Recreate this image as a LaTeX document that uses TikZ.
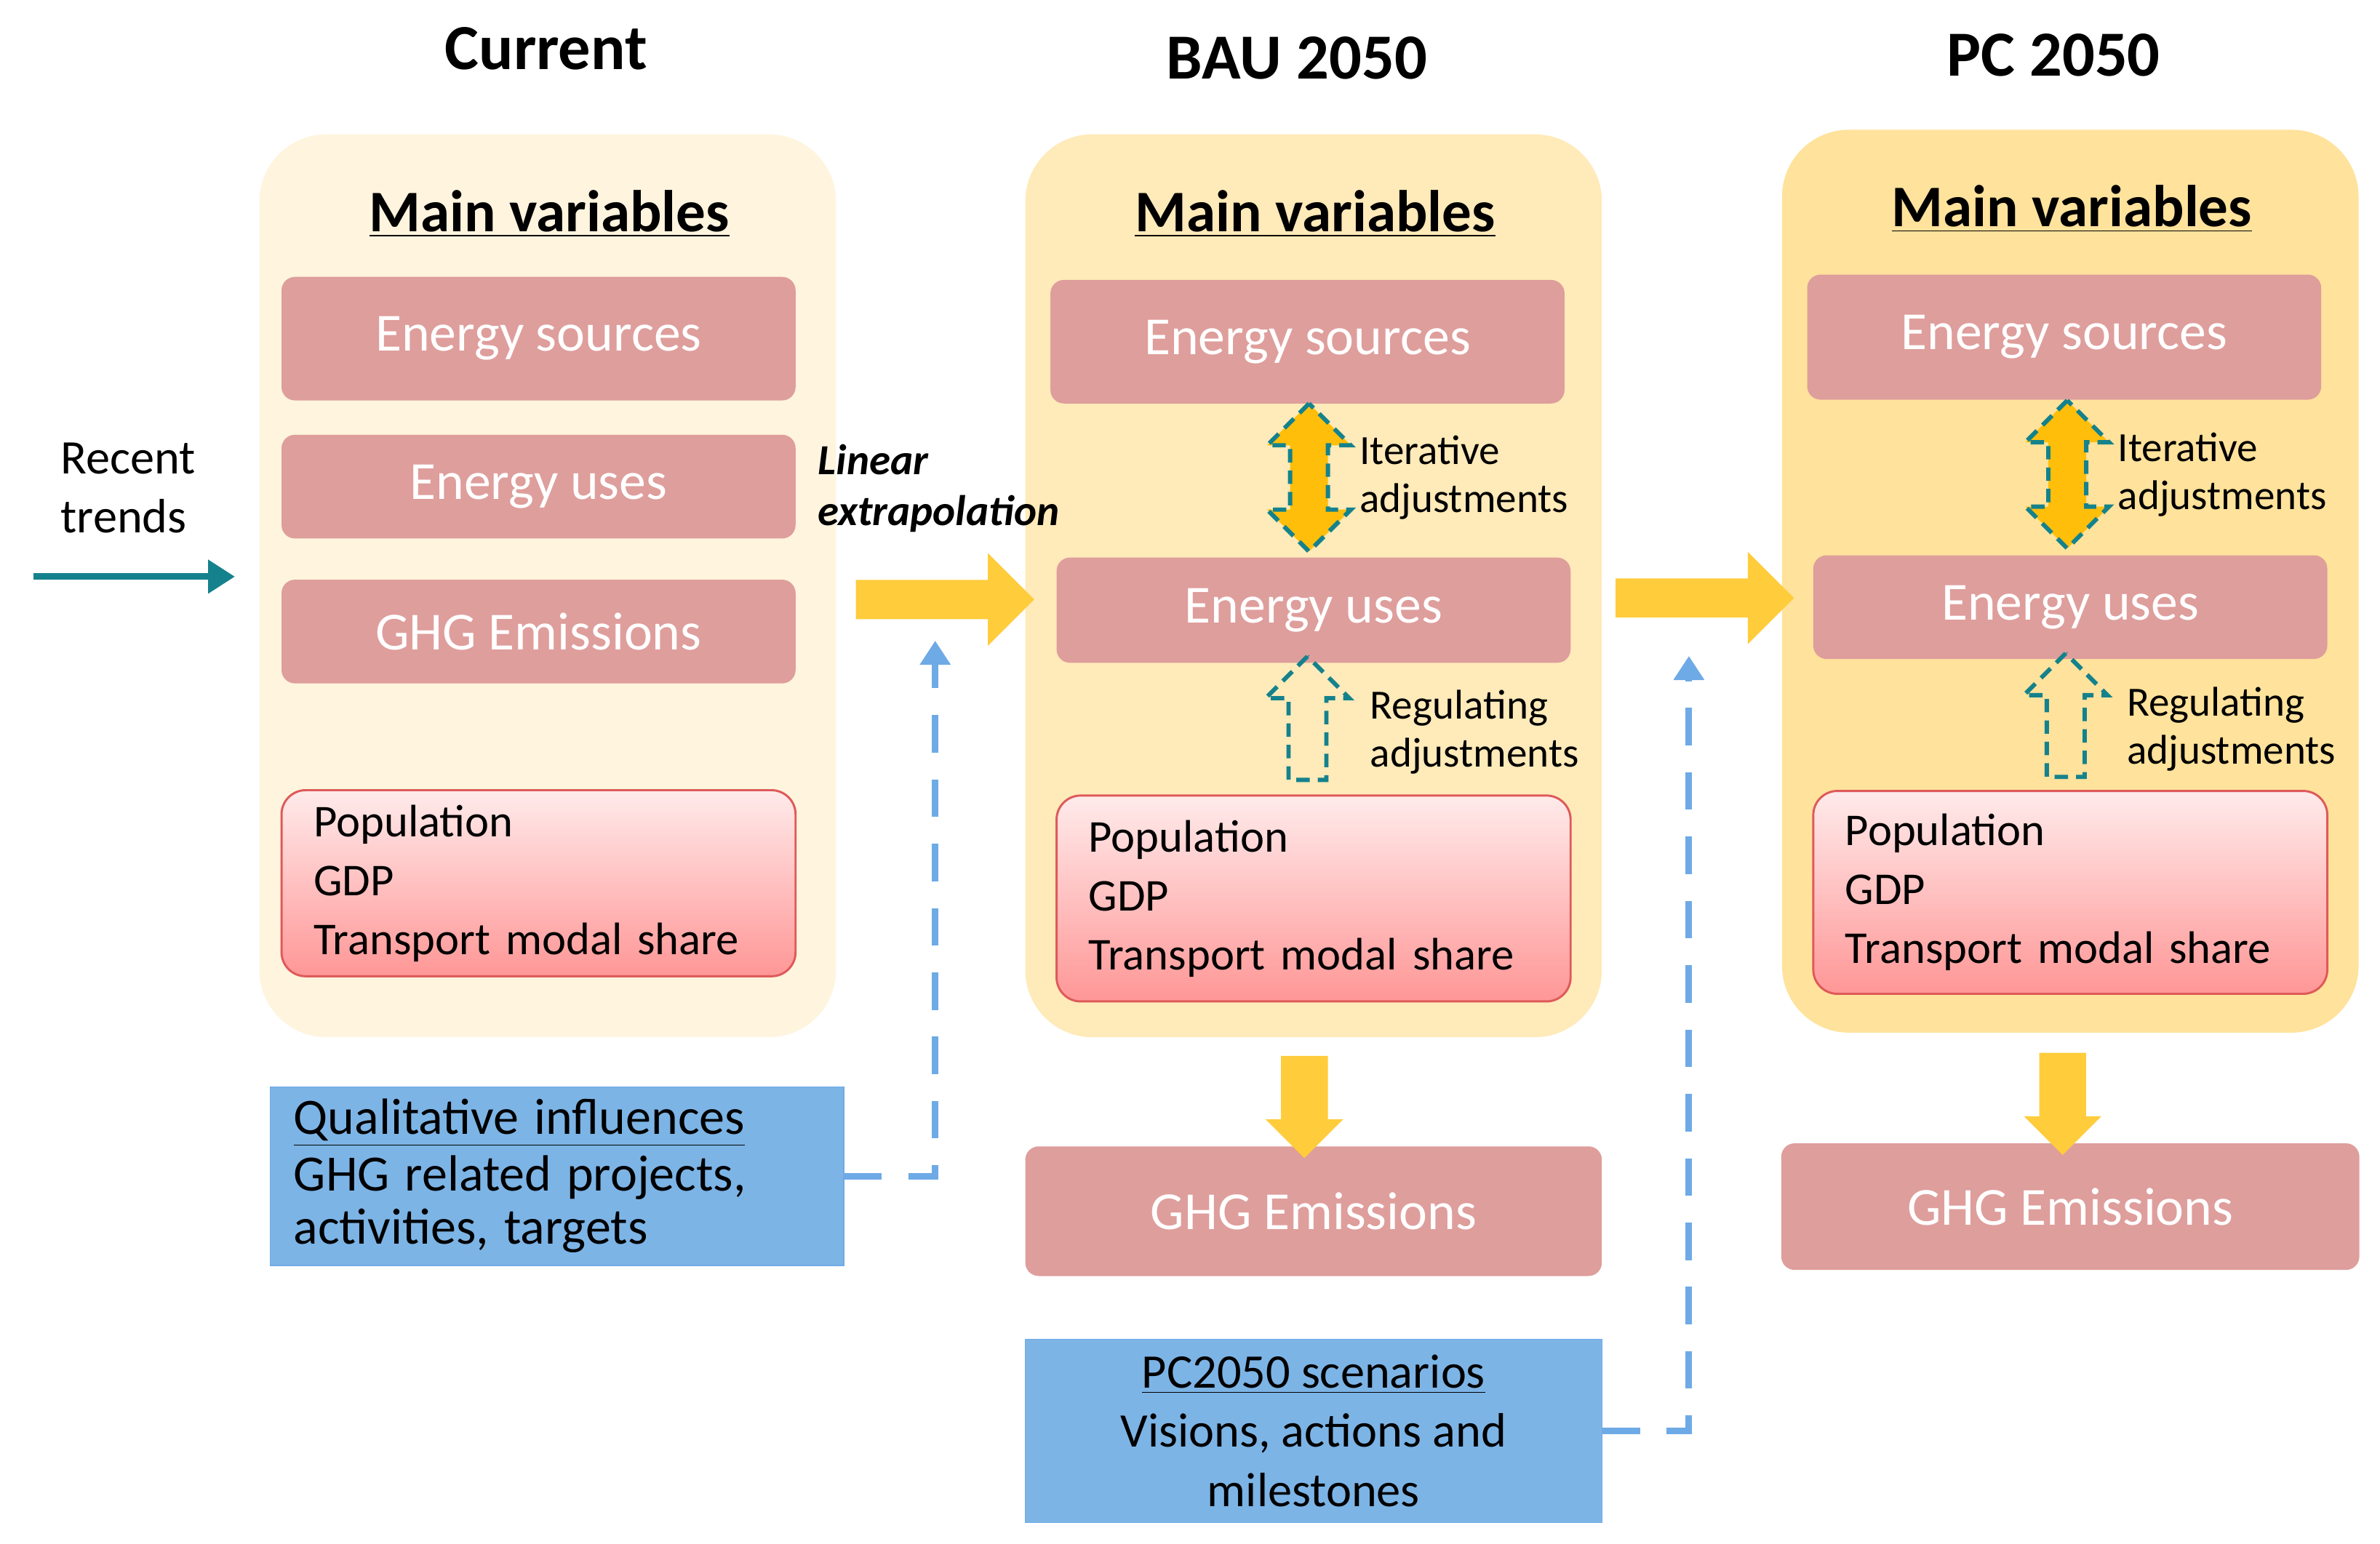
\documentclass[tikz,border=0pt]{standalone}
\usepackage{fontspec}
\setmainfont{Carlito}
\usetikzlibrary{positioning,shapes.arrows,arrows.meta}
\definecolor{panelA}{RGB}{255,244,222}
\definecolor{panelB}{RGB}{255,234,185}
\definecolor{panelC}{RGB}{255,226,155}
\definecolor{boxpink}{RGB}{222,158,156}
\definecolor{popred}{RGB}{222,90,90}
\definecolor{arrowyel}{RGB}{255,204,60}
\definecolor{iterorange}{RGB}{255,190,10}
\definecolor{tealc}{RGB}{20,130,140}
\definecolor{qualblue}{RGB}{125,180,230}
\definecolor{dashblue}{RGB}{110,170,230}
\tikzset{
    panel/.style={rounded corners=25pt, minimum width=7.56cm, minimum height=11.84cm},
    varbox/.style={fill=boxpink, rounded corners=5pt, text=white, font=\fontsize{20}{22}\selectfont, minimum width=6.74cm},
    popbox/.style={draw=popred, thick, rounded corners=9pt, top color=red!8, bottom color=red!35!pink!80, align=left, text width=5.9cm, font=\fontsize{17}{22}\selectfont, minimum width=6.74cm},
    title/.style={font=\bfseries\fontsize{22}{24}\selectfont},
    header/.style={font=\bfseries\fontsize{24}{26}\selectfont},
    note/.style={align=left, font=\fontsize{15.5}{18}\selectfont},
    iter/.style={double arrow, fill=iterorange, draw=tealc, dash pattern=on 5pt off 3pt, line width=1.6pt, inner sep=0.22cm, double arrow head extend=0.3cm, minimum height=1.94cm, shape border rotate=90},
    regul/.style={single arrow, draw=tealc, dash pattern=on 5pt off 3pt, line width=1.6pt, inner sep=0.22cm, single arrow head extend=0.3cm, minimum height=1.62cm, shape border rotate=90},
    bigarrow/.style={single arrow, fill=arrowyel, inner sep=0.25cm, single arrow head extend=0.35cm, minimum height=2.34cm},
    downarrow/.style={single arrow, fill=arrowyel, inner sep=0.3cm, single arrow head extend=0.2cm, minimum height=1.34cm, shape border rotate=270},
    blubox/.style={fill=qualblue, draw=dashblue, align=left, font=\fontsize{17}{20}\selectfont}
}
\begin{document}
\begin{tikzpicture}[x=0.02cm, y=-0.02cm]
    \useasboundingbox (0,0) rectangle (1560,1012);
    %Panels
    \node[panel, fill=panelA] (curP) at (359,384) {};
    \node[panel, fill=panelB] (bauP) at (861,384) {};
    \node[panel, fill=panelC] (pcP) at (1357,381) {};

    \node[header] (curH) at (358,32) {Current};
    \node[header] (bauH) at (850,38) {BAU 2050};
    \node[header] (pcH) at (1346,36) {PC 2050};

    \node[title] (curT) at (360,140) {\underline{Main variables}};
    \node[title] (bauT) at (862,140) {\underline{Main variables}};
    \node[title] (pcT) at (1358,137) {\underline{Main variables}};

    %Current column
    \node[varbox, minimum height=1.62cm] (curES) at (353,222) {Energy sources};
    \node[varbox, minimum height=1.36cm] (curEU) at (353,319) {Energy uses};
    \node[varbox, minimum height=1.36cm] (curGHG) at (353,414) {GHG Emissions};
    \node[popbox, minimum height=2.44cm] (curPop) at (353,579) {Population\\GDP\\Transport modal share};

    %BAU column
    \node[varbox, minimum height=1.62cm] (bauES) at (857,224) {Energy sources};
    \node[varbox, minimum height=1.38cm] (bauEU) at (861,400) {Energy uses};
    \node[popbox, minimum height=2.7cm] (bauPop) at (861,589) {Population\\GDP\\Transport modal share};
    \node[varbox, minimum width=7.56cm, minimum height=1.7cm] (bauGHG) at (861,794) {GHG Emissions};

    %PC column
    \node[varbox, minimum height=1.64cm] (pcES) at (1353,221) {Energy sources};
    \node[varbox, minimum height=1.36cm] (pcEU) at (1357,398) {Energy uses};
    \node[popbox, minimum height=2.66cm] (pcPop) at (1357,585) {Population\\GDP\\Transport modal share};
    \node[varbox, minimum width=7.58cm, minimum height=1.66cm] (pcGHG) at (1357,791) {GHG Emissions};

    %Adjustment arrows
    \node[iter] (bauIt) at (858,313) {};
    \node[note, anchor=west] (bauItL) at (885,313) {Iterative\\adjustments};
    \node[iter] (pcIt) at (1355,311) {};
    \node[note, anchor=west] (pcItL) at (1382,311) {Iterative\\adjustments};
    \node[regul] (bauReg) at (857,477) {};
    \node[note, anchor=west] (bauRegL) at (892,480) {Regulating\\adjustments};
    \node[regul] (pcReg) at (1354,475) {};
    \node[note, anchor=west] (pcRegL) at (1388,478) {Regulating\\adjustments};

    %Big arrows
    \node[bigarrow] (ext1) at (613,393) {};
    \node[bigarrow] (ext2) at (1111,392) {};
    \node[downarrow] (down1) at (855,718) {};
    \node[downarrow] (down2) at (1352,716) {};
    \node[align=left, anchor=west, font=\bfseries\itshape\fontsize{16}{19}\selectfont] (linL) at (530,320) {Linear\\extrapolation};

    %Recent trends
    \node[align=left, font=\fontsize{18}{22}\selectfont] (recL) at (84,320) {Recent\\trends};
    \coordinate (recS) at (22,378);
    \coordinate (recE) at (154,378);
    \draw[tealc, line width=2.5pt, -{Triangle[length=10pt,width=12pt]}] (recS) -- (recE);

    %Blue boxes
    \node[blubox, minimum width=7.52cm, minimum height=2.34cm, text width=6.9cm] (qual) at (365,771) {\fontsize{19}{21}\selectfont\underline{Qualitative influences}\\GHG related projects,\\activities, targets};
    \node[blubox, minimum width=7.56cm, minimum height=2.4cm, align=center, font=\fontsize{18}{22}\selectfont] (pcs) at (861,938) {\underline{PC2050 scenarios}\\Visions, actions and\\milestones};
    \coordinate (qualUp) at (613,420);
    \coordinate (pcsUp) at (1107,430);
    \draw[dashblue, line width=2.5pt, dash pattern=on 14pt off 10pt, -{Triangle[length=9pt,width=11pt]}] (qual.east) -- (qual.east -| qualUp) -- (qualUp);
    \draw[dashblue, line width=2.5pt, dash pattern=on 14pt off 10pt, -{Triangle[length=9pt,width=11pt]}] (pcs.east) -- (pcs.east -| pcsUp) -- (pcsUp);
\end{tikzpicture}
\end{document}
